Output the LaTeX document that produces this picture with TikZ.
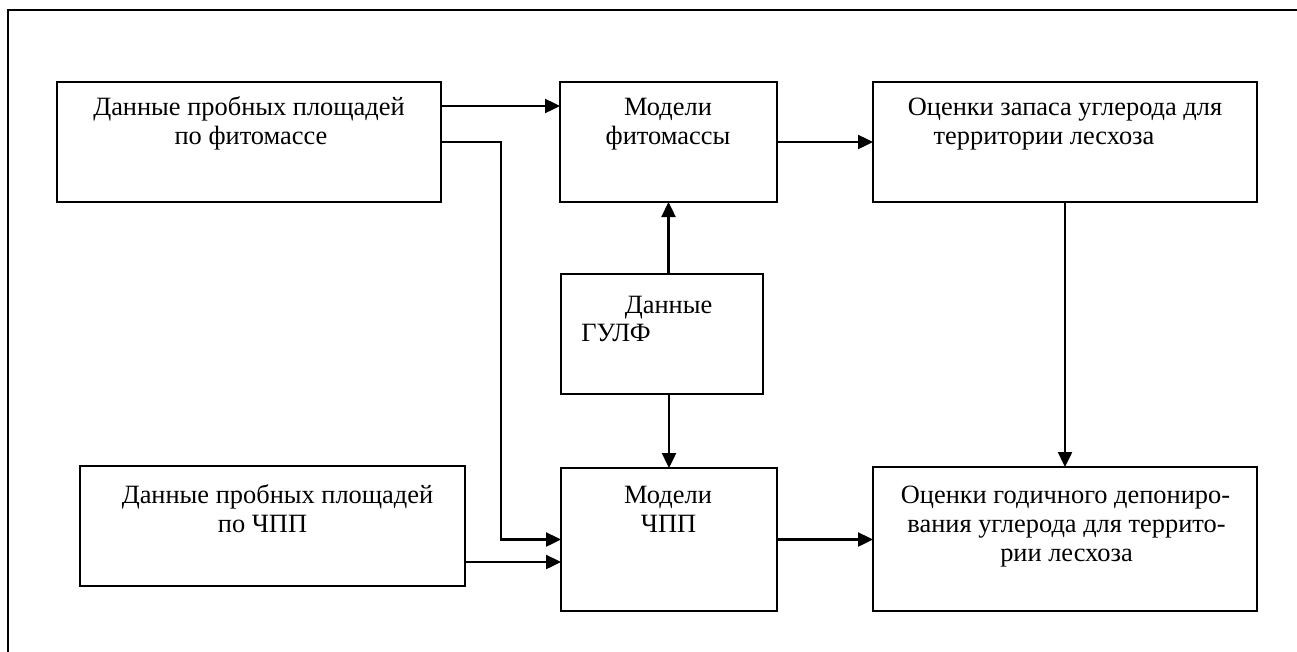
\documentclass[tikz,border=0pt]{standalone}
\usepackage{fontspec}
\setmainfont{Liberation Serif}
\usetikzlibrary{arrows.meta,calc}
\begin{document}
\begin{tikzpicture}[x=1pt,y=-1pt,
  box/.style={draw,line width=2.4pt,rectangle,inner sep=0pt,outer sep=0pt},
  txt/.style={anchor=base,inner sep=0pt,font=\fontsize{26.4}{29}\selectfont},
  arr/.style={line width=2.4pt,-{Triangle[length=15pt,width=14pt]}},
  conn/.style={line width=2.4pt}]
\useasboundingbox (0,0) rectangle (1297,651);
\draw[conn] (8,660) -- (8,10) -- (1310,10);
% boxes
\node[box,minimum width=384pt,minimum height=120pt] (b1) at (249,142) {};
\node[box,minimum width=217pt,minimum height=120pt] (b2) at (668.5,142) {};
\node[box,minimum width=384pt,minimum height=120pt] (b3) at (1065,142) {};
\node[box,minimum width=202pt,minimum height=120pt] (g) at (662,334) {};
\node[box,minimum width=216pt,minimum height=143pt] (m) at (669,539.5) {};
\node[box,minimum width=385pt,minimum height=120pt] (d) at (272.5,526) {};
\node[box,minimum width=384pt,minimum height=144pt] (r) at (1065,539) {};
% texts
\node[txt] (t1a) at (249,115) {Данные пробных площадей};
\node[txt] (t1b) at (251,144) {по фитомассе};
\node[txt] (t2a) at (668,115) {Модели};
\node[txt] (t2b) at (668,144) {фитомассы};
\node[txt] (t3a) at (1065,115) {Оценки запаса углерода для};
\node[txt] (t3b) at (1044,144) {территории лесхоза};
\node[txt] (tga) at (668.5,313) {Данные};
\node[txt] (tgb) at (616,341) {ГУЛФ};
\node[txt] (tda) at (277.5,503) {Данные пробных площадей};
\node[txt] (tdb) at (262.5,532) {по ЧПП};
\node[txt] (tma) at (668,503) {Модели};
\node[txt] (tmb) at (668.5,532) {ЧПП};
\node[txt] (tra) at (1065.5,503) {Оценки годичного депониро-};
\node[txt] (trb) at (1066.5,532) {вания углерода для террито-};
\node[txt] (trc) at (1066.5,561) {рии лесхоза};
% connectors
\coordinate (p1) at ($(b1.east)+(0,-36)$);
\draw[arr] (p1) -- (b2.west |- p1);
\coordinate (p2) at ($(m.west)+(-60,0)$);
\draw[arr] (b1.east) -| (p2) -- (m.west);
\coordinate (p3) at ($(d.east)+(0,36)$);
\draw[arr] (p3) -- (m.west |- p3);
\draw[arr] (b2.east) -- (b3.west);
\draw[arr] (g.north -| b2.south) -- (b2.south);
\draw[arr] (g.south -| m.north) -- (m.north);
\draw[arr] (b3.south) -- (r.north);
\draw[arr] (m.east) -- (r.west |- m.east);
\end{tikzpicture}
\end{document}
